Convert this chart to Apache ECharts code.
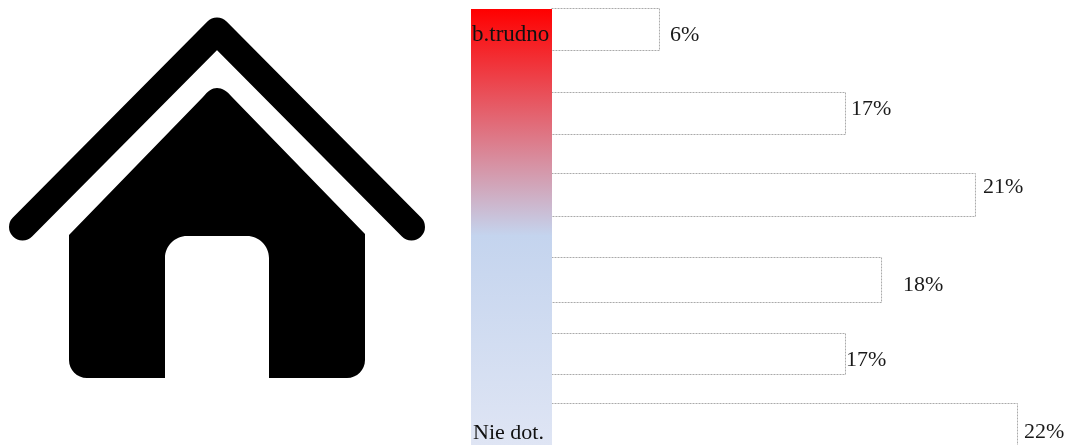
<!DOCTYPE html>
<html>
<head>
<meta charset="utf-8">
<style>
  html, body { margin: 0; padding: 0; background: #fff; overflow: hidden; }
  #panel { width: 1066px; height: 445px; }
</style>
<script src="https://cdn.jsdelivr.net/npm/echarts@6/dist/echarts.min.js"></script>
</head>
<body>
<div id="panel"></div>
<script>
// bar lengths as drawn in the picture (they do not follow the printed percentages)
var barValues = [5.29, 14.32, 20.63, 16.07, 14.32, 22.67];
var pctLabels = ['6%', '17%', '21%', '18%', '17%', '22%'];
var scaleEnds = ['b.trudno', 'Nie dot.'];

// the rows are not evenly spaced in the original, so each one gets its own grid
var rowTops = [8, 92, 173, 257, 333, 403];
var rowHeights = [43, 43, 44, 46, 42, 50];
var labelGaps = [10, 5, 7, 21, 0, 6];
var labelShifts = [6, -4, -8, 5, 6, 4];

var font = '"Liberation Serif"';
var grids = [], xAxes = [], yAxes = [], series = [];

barValues.forEach(function (v, i) {
    // last row runs off the bottom of the page, so no outer bounds
    grids.push({ left: 551, width: 515, top: rowTops[i], height: rowHeights[i], outerBoundsMode: 'none' });
    xAxes.push({ type: 'value', gridIndex: i, min: 0, max: 25, show: false });
    yAxes.push({ type: 'category', gridIndex: i, data: [pctLabels[i]], show: false });
    series.push({
        type: 'bar',
        xAxisIndex: i,
        yAxisIndex: i,
        barWidth: '100%',
        silent: true,
        data: [v],
        itemStyle: { color: '#fff', borderColor: '#aaa', borderWidth: 1, borderType: [2, 1] },
        label: {
            show: true,
            position: 'right',
            distance: labelGaps[i],
            offset: [0, labelShifts[i]],
            formatter: pctLabels[i],
            color: '#1a1a1a',
            fontFamily: font,
            fontSize: 22
        }
    });
});

// house icon, walls with door cut out
echarts.graphic.registerShape('houseBody', echarts.graphic.extendPath(
    'M69 235 L203 97 C208 91 212 88 217 88 C222 88 227 91 232 97 L365 234 L365 360 ' +
    'C365 370 357 378 347 378 L269 378 L269 258 C269 246 259 236 247 236 L187 236 ' +
    'C175 236 165 246 165 258 L165 378 L87 378 C77 378 69 370 69 360 Z', {}
));

var option = {
    backgroundColor: '#fff',
    animation: false,
    grid: grids,
    xAxis: xAxes,
    yAxis: yAxes,
    series: series,
    graphic: [
        {
            type: 'rect',
            z: 10,
            shape: { x: 471, y: 9, width: 81, height: 436 },
            style: {
                fill: new echarts.graphic.LinearGradient(0, 0, 0, 1, [
                    { offset: 0, color: '#ff0000' },
                    { offset: 0.52, color: '#c4d4ee' },
                    { offset: 1, color: '#dfe5f4' }
                ])
            }
        },
        {
            type: 'text', z: 11, x: 472, y: 23,
            style: { text: scaleEnds[0], font: '23px ' + font, fill: '#111' }
        },
        {
            type: 'text', z: 11, x: 473, y: 422,
            style: { text: scaleEnds[1], font: '22px ' + font, fill: '#111' }
        },
        // house icon, roof
        {
            type: 'polyline',
            shape: { points: [[22.5, 227], [217, 31], [411.5, 227]] },
            style: { stroke: '#000', fill: null, lineWidth: 27, lineCap: 'round', lineJoin: 'round' }
        },
        { type: 'houseBody', style: { fill: '#000' } }
    ]
};

var myChart = echarts.init(document.getElementById('panel'), null, { renderer: 'canvas' });
myChart.setOption(option);
</script>
</body>
</html>
